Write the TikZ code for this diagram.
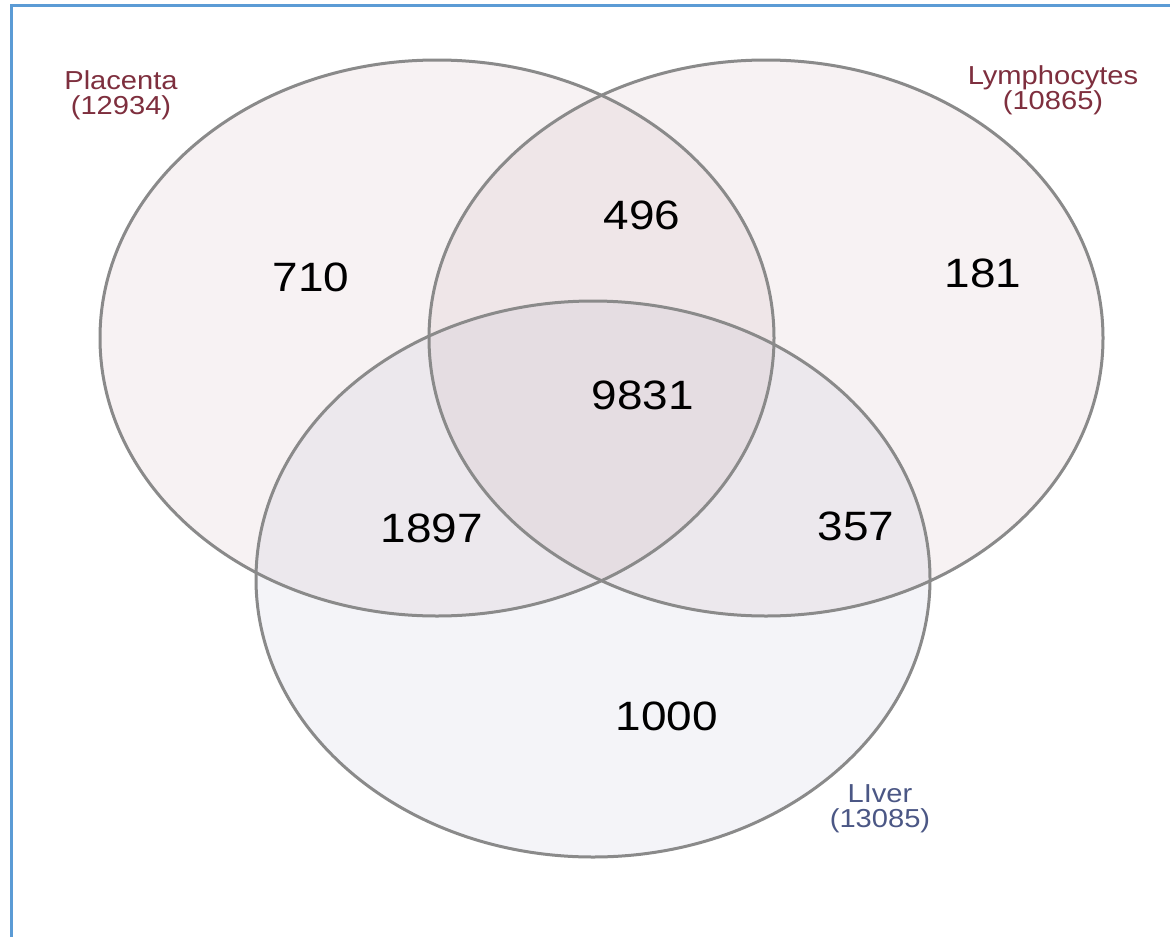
\documentclass[tikz,border=0pt]{standalone}
\usepackage{fontspec}
\setmainfont{Liberation Sans}
\definecolor{bordblue}{HTML}{5B9BD5}
\definecolor{edgegray}{HTML}{8A8A8A}
\definecolor{pinkfill}{RGB}{155,93,105}
\definecolor{bluefill}{RGB}{117,117,167}
\definecolor{maroon}{HTML}{7E2F3E}
\definecolor{slate}{HTML}{4B5785}
\newcommand{\wdtxt}[1]{\scalebox{1.12}[1]{#1}}
\begin{document}
\begin{tikzpicture}[x=1pt,y=-1pt,
  setfill/.style={fill=#1,fill opacity=0.08,draw=none},
  setline/.style={draw=edgegray,line width=3pt},
  num/.style={font=\fontsize{41}{48}\selectfont,text=black,inner sep=0pt},
  lab/.style={font=\fontsize{26}{26}\selectfont,align=center,inner sep=0pt}]
\useasboundingbox (0,0) rectangle (1170,937);
\fill[white] (0,0) rectangle (1170,937);
% border (cropped at right and bottom)
\draw[bordblue,line width=3pt] (11,940) -- (11,5) -- (1175,5);
% fills
\fill[setfill=pinkfill] (437,338) ellipse [x radius=337,y radius=278];
\fill[setfill=pinkfill] (766,338) ellipse [x radius=337,y radius=278];
\fill[setfill=bluefill] (593,579) ellipse [x radius=337,y radius=278];
% outlines
\draw[setline] (437,338) ellipse [x radius=337,y radius=278];
\draw[setline] (766,338) ellipse [x radius=337,y radius=278];
\draw[setline] (593,579) ellipse [x radius=337,y radius=278];
% counts
\node[num] (n710) at (311,277) {\wdtxt{710}};
\node[num] (n496) at (642,215) {\wdtxt{496}};
\node[num] (n181) at (983,273) {\wdtxt{181}};
\node[num] (n9831) at (643,395) {\wdtxt{9831}};
\node[num] (n1897) at (432,528) {\wdtxt{1897}};
\node[num] (n357) at (856,526) {\wdtxt{357}};
\node[num] (n1000) at (667,716) {\wdtxt{1000}};
% set labels
\node[lab,text=maroon] (plac) at (121,95) {\wdtxt{Placenta}\\[-1pt]\wdtxt{(12934)}};
\node[lab,text=maroon] (lymph) at (1053,90) {\wdtxt{Lymphocytes}\\[-1pt]\wdtxt{(10865)}};
\node[lab,text=slate] (liver) at (880,809) {\wdtxt{LIver}\\[-1pt]\wdtxt{(13085)}};
\end{tikzpicture}
\end{document}
